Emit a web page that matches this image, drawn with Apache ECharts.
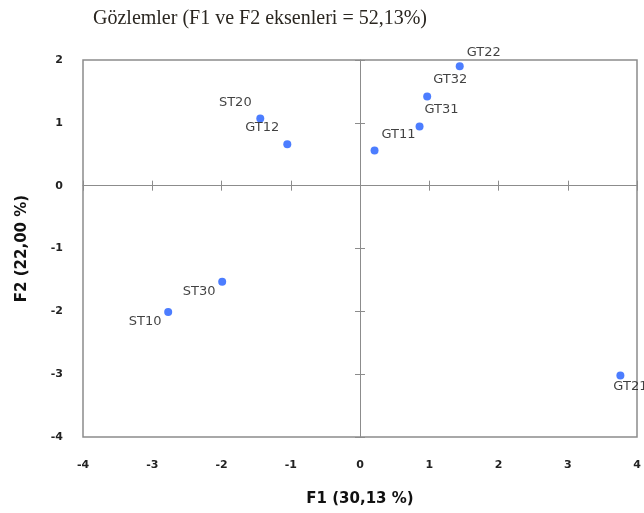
<!DOCTYPE html>
<html>
<head>
<meta charset="utf-8">
<script src="https://cdn.jsdelivr.net/npm/echarts@6/dist/echarts.min.js"></script>
<style>
html,body{margin:0;padding:0;background:#fff;}
#chart{width:644px;height:513px;}
</style>
</head>
<body>
<div id="chart"></div>
<script>
const categories = ['GT22','GT32','GT31','GT11','ST20','GT12','ST30','ST10','GT21'];
const f1Values = [1.44, 0.97, 0.86, 0.21, -1.44, -1.05, -1.99, -2.77, 3.76];
const f2Values = [1.90, 1.42, 0.94, 0.56, 1.07, 0.66, -1.53, -2.01, -3.02];
const xTickLabels = ['-4','-3','-2','-1','0','1','2','3','4'];
const yTickLabels = ['-4','-3','-2','-1','0','1','2'];
const titleText = 'Gözlemler (F1 ve F2 eksenleri = 52,13%)';
const xName = 'F1 (30,13 %)';
const yName = 'F2 (22,00 %)';

const labelOffsets = {
  GT22: [24, -14], GT32: [23, -17], GT31: [22, -17], GT11: [24, -16],
  ST20: [-25, -16], GT12: [-25, -17], ST30: [-23, 10], ST10: [-23, 10], GT21: [10, 11]
};

const xMin = Number(xTickLabels[0]), xMax = Number(xTickLabels[xTickLabels.length - 1]);
const yMin = Number(yTickLabels[0]), yMax = Number(yTickLabels[yTickLabels.length - 1]);

const points = categories.map((name, i) => ({
  name: name,
  value: [f1Values[i], f2Values[i]],
  label: { offset: labelOffsets[name] }
}));

const gridLine = '#8c8c8c';
const tickHalf = 5;
const tickFont = { fontFamily: 'DejaVu Sans', fontSize: 11, fontWeight: 'bold', color: '#222' };
const G = { left: 83, top: 60, width: 554, height: 377 };
const yZeroFrac = (yMax - 0) / (yMax - yMin);
const xZeroFrac = (0 - xMin) / (xMax - xMin);

function baseAxis(min, max) {
  return { type: 'value', min: min, max: max, interval: 1, splitLine: { show: false } };
}
function hiddenAxis(gi, min, max) {
  return { type: 'value', gridIndex: gi, min: min, max: max, show: false };
}
function zeroLineAxis(gi, min, max, pos) {
  return Object.assign(baseAxis(min, max), {
    gridIndex: gi, position: pos,
    axisLine: { show: true, onZero: false, lineStyle: { color: gridLine, width: 1 } },
    axisTick: { show: false },
    axisLabel: { show: false }
  });
}
function crossTickAxis(gi, min, max, pos) {
  return Object.assign(baseAxis(min, max), {
    gridIndex: gi, position: pos, offset: tickHalf,
    axisLine: { show: false, onZero: false },
    axisTick: { show: true, inside: true, length: tickHalf * 2, lineStyle: { color: gridLine, width: 1 } },
    axisLabel: { show: false }
  });
}

const chart = echarts.init(document.getElementById('chart'), null, { renderer: 'canvas' });
chart.setOption({
  animation: false,
  backgroundColor: '#ffffff',
  title: {
    text: titleText,
    left: 88, top: 4,
    textStyle: { fontFamily: 'Liberation Serif', fontSize: 20, fontWeight: 'normal', color: '#2a2620' }
  },
  grid: [
    { left: G.left, top: G.top, width: G.width, height: G.height,
      show: true, borderColor: gridLine, borderWidth: 1.5, backgroundColor: 'transparent' },
    { left: G.left, top: G.top, width: G.width, height: G.height * yZeroFrac },
    { left: G.left, top: G.top + G.height * yZeroFrac, width: G.width, height: G.height * (1 - yZeroFrac) },
    { left: G.left, top: G.top, width: G.width * xZeroFrac, height: G.height },
    { left: G.left + G.width * xZeroFrac, top: G.top, width: G.width * (1 - xZeroFrac), height: G.height }
  ],
  xAxis: [
    Object.assign(baseAxis(xMin, xMax), {
      gridIndex: 0,
      position: 'bottom',
      axisLine: { show: false, onZero: false },
      axisTick: { show: false },
      axisLabel: Object.assign({ margin: 23 }, tickFont),
      name: xName, nameLocation: 'middle', nameGap: 55,
      nameTextStyle: { fontFamily: 'DejaVu Sans', fontSize: 15, fontWeight: 'bold', color: '#111' }
    }),
    zeroLineAxis(1, xMin, xMax, 'bottom'),
    crossTickAxis(2, xMin, xMax, 'top'),
    hiddenAxis(3, xMin, 0),
    hiddenAxis(4, 0, xMax)
  ],
  yAxis: [
    Object.assign(baseAxis(yMin, yMax), {
      gridIndex: 0,
      position: 'left',
      axisLine: { show: false, onZero: false },
      axisTick: { show: false },
      axisLabel: Object.assign({ margin: 20 }, tickFont),
      name: yName, nameLocation: 'middle', nameGap: 53,
      nameTextStyle: { fontFamily: 'DejaVu Sans', fontSize: 15, fontWeight: 'bold', color: '#111' }
    }),
    hiddenAxis(1, 0, yMax),
    hiddenAxis(2, yMin, 0),
    crossTickAxis(3, yMin, yMax, 'right'),
    zeroLineAxis(4, yMin, yMax, 'left')
  ],
  series: [{
    type: 'scatter',
    xAxisIndex: 0, yAxisIndex: 0,
    symbol: 'circle', symbolSize: 8,
    itemStyle: { color: '#1f5cff' },
    clip: false,
    z: 10,
    label: {
      show: true, position: 'inside',
      formatter: p => p.name,
      fontFamily: 'DejaVu Sans', fontSize: 13, color: '#111'
    },
    data: points
  }]
});
</script>
</body>
</html>
